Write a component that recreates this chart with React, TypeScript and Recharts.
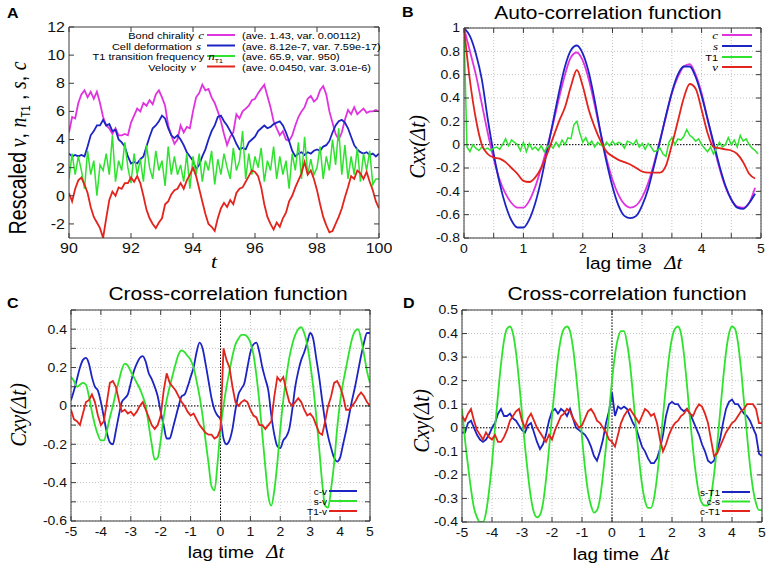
import React from "react";
import { LineChart, Line, XAxis, YAxis, CartesianGrid, ReferenceLine } from "recharts";

// ---- panel A: time series, t = 90 .. 100 every 0.1
const tA = Array.from({ length: 101 }, (_, i) => +(90 + i * 0.1).toFixed(2));
const chirality = [
  4.5, 5.6, 5.5, 6.6, 7.2, 7.5, 7.0, 7.4, 6.9, 7.4,
  6.6, 5.6, 5.0, 4.8, 4.4, 4.8, 4.3, 4.3, 4.4, 4.3,
  5.2, 5.7, 6.2, 6.0, 6.6, 6.4, 6.8, 6.5, 7.2, 7.5,
  7.0, 6.4, 5.0, 4.3, 3.7, 4.0, 5.0, 4.5, 4.9, 4.8,
  6.0, 7.0, 7.3, 7.9, 7.5, 7.6, 7.0, 6.6, 6.0, 5.3,
  4.4, 3.6, 4.2, 4.5, 5.8, 5.5, 6.0, 6.2, 6.4, 6.8,
  6.9, 7.3, 7.6, 7.9, 7.1, 6.3, 5.3, 4.8, 4.3, 4.6,
  4.0, 3.9, 4.3, 5.0, 5.6, 6.0, 6.3, 6.9, 7.1, 6.7,
  6.9, 7.5, 7.8, 7.2, 6.0, 5.2, 4.4, 4.0, 4.5, 5.4,
  6.1, 5.8, 6.3, 5.8, 6.0, 6.2, 5.9, 6.0, 6.0, 6.1,
  6.0,
];
const deformation = [
  3.0, 2.8, 2.9, 2.8, 2.9, 2.8, 3.5, 4.3, 4.6, 5.0,
  5.0, 5.4, 5.0, 5.1, 4.6, 4.7, 4.0, 3.8, 3.5, 2.8,
  2.3, 2.4, 2.3, 2.6, 2.8, 3.5, 4.2, 4.8, 5.0, 5.3,
  5.7, 5.5, 4.8, 4.3, 4.1, 4.3, 4.0, 3.6, 3.1, 2.8,
  2.5, 1.9, 2.2, 2.8, 3.3, 4.0, 4.6, 5.0, 5.6, 5.7,
  5.3, 5.0, 4.6, 4.2, 3.7, 3.3, 3.4, 3.3, 3.8, 4.0,
  4.2, 4.6, 4.8, 5.0, 4.8, 4.9, 5.1, 5.2, 5.3, 5.0,
  4.5, 3.9, 3.2, 2.8, 3.0, 3.1, 2.9, 3.1, 3.0, 3.2,
  3.3, 3.2, 3.5, 3.6, 3.9, 4.5, 5.0, 5.3, 5.4, 5.2,
  4.8, 4.2, 3.6, 3.3, 3.1, 3.0, 3.1, 2.9, 3.0, 2.8,
  3.0,
];
const t1Freq = [
  1.2, 3.0, 1.5, 2.8, 1.8, 0.5, 3.2, 1.5, 2.5, 0.0,
  2.2, 1.8, 3.0, 1.5, 4.3, 1.0, 2.5, 1.8, 3.8, 2.0,
  0.9, 3.0, 1.5, 2.6, 1.0, 3.6, 2.0, 1.2, 3.2, 1.8,
  2.5, 0.7, 3.5, 1.5, 2.8, 1.5, 2.2, 1.0, 3.0, 0.5,
  2.8, 1.5, 3.0, 1.0, 2.5, 1.8, 3.2, 0.8, 2.6, 1.5,
  3.0, 2.0, 1.2, 3.4, 1.8, 2.5, 4.6, 1.2, 3.0, 1.5,
  2.8, 2.0, 3.4, 1.0, 2.5, 1.8, 3.5, 1.2, 2.8, 1.5,
  2.5, 0.5, 3.0, 1.8, 3.8, 1.2, 4.2, 1.5, 2.6, 1.5,
  2.0, 3.5, 1.2, 2.8, 1.8, 4.0, 2.2, 4.8, 1.5, 3.6,
  1.2, 2.8, 1.5, 3.4, 1.0, 3.0, 1.8, 3.2, 0.8, 1.2,
  1.2,
];
const velocity = [
  0.2, -0.4, 0.5, 1.1, 1.3, 0.8, 0.2, -0.8, -1.5, -1.9,
  -2.3, -3.0, -1.6, -0.3, 0.3, 0.0, 0.6, 0.5, 0.9, 0.9,
  1.3, 1.0, 1.4, 0.9, 0.0, -1.0, -1.6, -2.0, -2.3, -1.9,
  -1.6, -0.6, -0.4, 0.1, 0.4, 0.5, 0.9, 0.5, 1.1, 1.5,
  2.0, 1.4, 0.5, -0.4, -1.3, -2.0, -2.2, -2.5, -1.6, -0.9,
  -0.5, -0.8, -0.3, -0.6, 0.2, 0.5, 0.6, 1.0, 1.4, 1.8,
  1.7, 1.4, 0.6, -0.6, -1.5, -2.0, -2.4, -1.9, -2.2, -1.6,
  -1.2, -0.4, 0.0, 0.6, 1.1, 1.6, 2.4, 1.5, 1.8, 1.2,
  0.4, -0.6, -1.5, -2.1, -2.6, -2.5, -2.0, -1.5, -0.9, -0.1,
  0.6, 1.4, 1.2, 1.8, 1.6, 1.2, 1.7, 1.0, 0.4, -0.4,
  -0.9,
];

// ---- panel B: auto-correlation, lag 0 .. 4.9 every 0.1 (T1 every 0.05)
const lagB = Array.from({ length: 50 }, (_, i) => +(i * 0.1).toFixed(2));
const lagBFine = Array.from({ length: 100 }, (_, i) => +(i * 0.05).toFixed(2));
const acfC = [
  1.0, 0.8, 0.6, 0.35, 0.1, -0.12, -0.3, -0.42, -0.5, -0.54,
  -0.54, -0.48, -0.36, -0.2, -0.02, 0.18, 0.4, 0.6, 0.75, 0.79,
  0.72, 0.56, 0.34, 0.1, -0.12, -0.3, -0.43, -0.51, -0.54, -0.52,
  -0.45, -0.33, -0.16, 0.04, 0.24, 0.44, 0.58, 0.67, 0.69, 0.6,
  0.44, 0.22, 0.0, -0.2, -0.36, -0.47, -0.53, -0.54, -0.5, -0.37,
];
const acfS = [
  1.0, 0.93, 0.78, 0.56, 0.22, -0.08, -0.33, -0.52, -0.65, -0.71,
  -0.71, -0.64, -0.5, -0.3, -0.05, 0.2, 0.45, 0.67, 0.81, 0.85,
  0.78, 0.62, 0.38, 0.1, -0.15, -0.36, -0.52, -0.61, -0.63, -0.61,
  -0.52, -0.38, -0.18, 0.03, 0.25, 0.45, 0.6, 0.67, 0.67, 0.58,
  0.42, 0.22, 0.02, -0.18, -0.35, -0.47, -0.54, -0.55, -0.5, -0.42,
];
const acfV = [
  1.0, 0.55, 0.22, 0.0, -0.08, -0.11, -0.12, -0.15, -0.2, -0.25,
  -0.31, -0.32, -0.28, -0.2, -0.08, 0.06, 0.2, 0.32, 0.5, 0.64,
  0.5, 0.3, 0.15, 0.03, -0.06, -0.1, -0.13, -0.15, -0.17, -0.2,
  -0.23, -0.24, -0.24, -0.24, -0.18, 0.0, 0.2, 0.4, 0.52, 0.48,
  0.3, 0.1, -0.02, -0.03, -0.04, -0.05, -0.08, -0.15, -0.25, -0.29,
];
const acfT1 = [
  1.0, -0.02, -0.06, 0.0, -0.03, -0.05, -0.02, -0.04, -0.03, -0.05,
  -0.03, -0.02, -0.04, 0.0, 0.05, -0.01, 0.04, 0.02, 0.0, -0.05,
  0.02, -0.06, 0.01, -0.04, -0.02, -0.05, -0.01, -0.06, -0.02, 0.0,
  -0.03, 0.02, -0.02, 0.04, 0.0, 0.06, 0.05, 0.17, 0.2, 0.1,
  0.02, 0.06, 0.0, 0.03, -0.02, 0.02, 0.0, -0.02, 0.02, -0.01,
  0.03, 0.0, 0.02, 0.01, -0.03, 0.03, 0.02, 0.0, 0.04, -0.02,
  0.01, -0.04, 0.01, -0.02, -0.06, -0.05, -0.03, -0.08, -0.1, 0.02,
  0.06, 0.0, 0.05, 0.04, 0.07, 0.13, 0.08, 0.06, 0.03, 0.05,
  0.0, -0.03, -0.06, -0.02, -0.08, -0.03, 0.02, -0.02, 0.0, 0.06,
  0.0, 0.04, -0.02, 0.08, 0.03, 0.05, 0.0, -0.03, -0.05, -0.08,
];

// ---- panels C, D: cross-correlation, lag -5 .. 5 every 0.1
const lagCD = Array.from({ length: 101 }, (_, i) => +(-5 + i * 0.1).toFixed(2));
const ccfCV = [
  0.03, 0.08, 0.14, 0.2, 0.24, 0.25, 0.22, 0.15, 0.1, 0.08,
  0.02, -0.06, -0.14, -0.19, -0.2, -0.13, -0.05, 0.02, 0.04, 0.06,
  0.12, 0.18, 0.22, 0.25, 0.26, 0.23, 0.17, 0.14, 0.1, 0.05,
  -0.03, -0.1, -0.17, -0.17, -0.12, -0.06, 0.0, 0.05, 0.06, 0.1,
  0.15, 0.2, 0.28, 0.33, 0.3, 0.22, 0.13, 0.04, -0.02, -0.05,
  -0.07, -0.17, -0.2, -0.18, -0.12, -0.02, 0.06, 0.09, 0.12, 0.2,
  0.28, 0.32, 0.33, 0.28, 0.2, 0.14, 0.08, -0.05, -0.15, -0.21,
  -0.22, -0.18, -0.16, -0.12, -0.02, 0.1, 0.18, 0.24, 0.28, 0.33,
  0.38, 0.35, 0.25, 0.15, 0.03, -0.08, -0.16, -0.22, -0.27, -0.29,
  -0.27, -0.2, -0.13, -0.05, 0.03, 0.1, 0.18, 0.26, 0.33, 0.38,
  0.38,
];
const ccfSV = [
  0.15, 0.13, 0.1, 0.11, 0.12, 0.11, 0.05, -0.03, -0.1, -0.15,
  -0.18, -0.18, -0.13, -0.06, 0.0, 0.07, 0.13, 0.19, 0.22, 0.21,
  0.18, 0.15, 0.12, 0.09, 0.05, 0.0, -0.1, -0.2, -0.28, -0.27,
  -0.18, -0.06, 0.03, 0.1, 0.16, 0.22, 0.27, 0.29, 0.28, 0.26,
  0.24, 0.2, 0.13, 0.05, -0.05, -0.18, -0.3, -0.42, -0.44, -0.3,
  -0.12, 0.0, 0.1, 0.18, 0.26, 0.32, 0.35, 0.37, 0.37, 0.36,
  0.33, 0.27, 0.16, 0.02, -0.15, -0.32, -0.47, -0.52, -0.44, -0.3,
  -0.12, 0.03, 0.15, 0.25, 0.32, 0.37, 0.4, 0.41, 0.38, 0.32,
  0.22, 0.1, -0.05, -0.22, -0.4, -0.52, -0.53, -0.43, -0.3, -0.12,
  0.02, 0.12, 0.2, 0.28, 0.35, 0.39, 0.4, 0.35, 0.27, 0.18,
  0.12,
];
const ccfT1V = [
  -0.02, -0.07, -0.08, -0.1, -0.04, 0.02, 0.03, 0.06, 0.02, -0.05,
  -0.1, -0.08, 0.02, 0.12, 0.13, 0.1, 0.03, -0.03, -0.02, -0.04,
  -0.03, -0.05, -0.03, 0.0, 0.02, -0.02, -0.06, -0.1, -0.12, -0.1,
  -0.05, 0.08, 0.17, 0.12, 0.1, 0.08, 0.05, 0.02, 0.0, -0.03,
  -0.05, -0.04, -0.07, -0.1, -0.12, -0.14, -0.15, -0.15, -0.17, -0.16,
  -0.12, 0.3, 0.24, 0.2, 0.1, 0.02, 0.0, 0.02, 0.03, 0.02,
  -0.02, -0.05, -0.06, -0.1, -0.1, -0.12, -0.1, -0.08, 0.05, 0.15,
  0.13, 0.15, 0.08, 0.02, 0.0, 0.02, 0.04, 0.02, -0.02, -0.05,
  -0.04, -0.06, -0.1, -0.14, -0.15, -0.08, 0.0, 0.05, 0.12, 0.13,
  0.1, 0.05, -0.02, -0.02, 0.0, 0.02, 0.05, 0.07, 0.05, 0.02,
  0.0,
];
const ccfST1 = [
  -0.02, -0.02, 0.02, 0.03, 0.0, -0.03, -0.05, -0.06, -0.05, -0.03,
  0.0, 0.02, 0.06, 0.08, 0.05, 0.05, 0.06, 0.04, 0.03, 0.01,
  -0.01, -0.02, 0.01, 0.02, -0.02, -0.06, -0.09, -0.07, -0.03, 0.03,
  0.07, 0.08, 0.06, 0.08, 0.07, 0.05, 0.08, 0.04, 0.0, -0.01,
  -0.02, -0.03, -0.05, -0.08, -0.12, -0.14, -0.1, -0.05, 0.02, 0.07,
  0.15, 0.05, 0.09, 0.08, 0.09, 0.08, 0.05, 0.02, 0.0, -0.04,
  -0.08, -0.1, -0.13, -0.15, -0.15, -0.13, -0.09, -0.03, 0.05, 0.1,
  0.11, 0.1, 0.1, 0.08, 0.07, 0.08, 0.06, 0.03, 0.0, -0.03,
  -0.07, -0.1, -0.14, -0.15, -0.14, -0.1, -0.05, 0.02, 0.08, 0.11,
  0.12, 0.1, 0.1, 0.08, 0.06, 0.05, 0.03, 0.0, -0.03, -0.11,
  -0.12,
];
const ccfCS = [
  0.08, -0.05, -0.16, -0.26, -0.34, -0.38, -0.4, -0.4, -0.36, -0.27,
  -0.15, 0.0, 0.14, 0.27, 0.37, 0.42, 0.43, 0.4, 0.32, 0.2,
  0.06, -0.08, -0.2, -0.3, -0.36, -0.38, -0.37, -0.32, -0.22, -0.09,
  0.05, 0.18, 0.3, 0.38, 0.42, 0.43, 0.41, 0.34, 0.23, 0.1,
  -0.04, -0.17, -0.27, -0.33, -0.36, -0.35, -0.3, -0.2, -0.08, 0.06,
  0.2, 0.31, 0.38, 0.41, 0.41, 0.36, 0.27, 0.14, 0.0, -0.13,
  -0.24, -0.31, -0.34, -0.34, -0.3, -0.21, -0.09, 0.05, 0.18, 0.3,
  0.38, 0.42, 0.43, 0.4, 0.31, 0.18, 0.04, -0.09, -0.2, -0.28,
  -0.32, -0.33, -0.33, -0.29, -0.2, -0.08, 0.06, 0.2, 0.32, 0.4,
  0.43, 0.42, 0.36, 0.25, 0.11, -0.03, -0.16, -0.26, -0.32, -0.35,
  -0.35,
];
const ccfCT1 = [
  0.05, 0.03, 0.06, 0.08, 0.03, -0.01, -0.03, -0.05, -0.02, -0.04,
  -0.05, -0.03, -0.06, -0.06, -0.04, -0.01, 0.03, 0.05, 0.07, 0.08,
  0.03, 0.0, 0.04, 0.06, 0.03, 0.0, -0.02, -0.04, -0.06, -0.03,
  -0.05, -0.01, 0.02, 0.05, 0.06, 0.08, 0.07, 0.04, 0.02, 0.0,
  0.01, 0.04, 0.07, 0.08, 0.06, 0.03, 0.02, 0.0, -0.02, -0.05,
  -0.06, -0.08, -0.03, 0.02, 0.05, 0.07, 0.08, 0.06, 0.04, 0.02,
  0.05, 0.08, 0.07, 0.05, 0.06, 0.02, -0.05, -0.1, -0.07, -0.03,
  0.0, 0.02, 0.03, 0.05, 0.06, 0.08, 0.06, 0.05, 0.08, 0.1,
  0.09, 0.06, 0.02, -0.05, -0.12, -0.11, -0.08, -0.05, -0.02, 0.0,
  0.02, 0.03, 0.05, 0.07, 0.08, 0.1, 0.1, 0.1, 0.08, 0.02,
  0.02,
];

// tick values
const ticksA_x = [90, 92, 94, 96, 98, 100];
const ticksA_y = [-2, 0, 2, 4, 6, 8, 10, 12];
const ticksB_x = [0, 0.5, 1, 1.5, 2, 2.5, 3, 3.5, 4, 4.5, 5];
const ticksB_y = [-0.8, -0.6, -0.4, -0.2, 0, 0.2, 0.4, 0.6, 0.8, 1];
const ticksCD_x = [-5, -4, -3, -2, -1, 0, 1, 2, 3, 4, 5];
const ticksC_y = [-0.6, -0.5, -0.4, -0.3, -0.2, -0.1, 0, 0.1, 0.2, 0.3, 0.4, 0.5];
const ticksD_y = [-0.4, -0.3, -0.2, -0.1, 0, 0.1, 0.2, 0.3, 0.4, 0.5];

const MAGENTA = "#e033e0";
const BLUE = "#1c24c4";
const GREEN = "#2ee22e";
const RED = "#e2241c";
const AX = "#3a3a3a";
const SANS = "'Liberation Sans', Arial, sans-serif";
const SERIF = "'Liberation Serif', 'Times New Roman', serif";
const SQ = 0.86; // the source figure's lettering is a little squat

const pairs = (xs: number[], ys: number[]) => ys.map((y, i) => ({ x: xs[i], y }));
const fmt = (v: number) => String(Number(v.toFixed(2)));
const always = () => true;
const at = (x: number, y: number) => `translate(${x} ${y}) scale(1 ${SQ})`;
const atUp = (x: number, y: number) => `translate(${x} ${y}) scale(1 ${SQ}) rotate(-90)`;

type Series = { name: string; xs: number[]; ys: number[]; color: string; curve: "linear" | "monotone"; w?: number };

type PanelProps = {
  left: number;
  top: number;
  width: number;
  height: number;
  mTop: number;
  mRight: number;
  yWidth: number;
  xHeight: number;
  xDomain: [number, number];
  yDomain: [number, number];
  xTicks: number[];
  yTicks: number[];
  xShow: (v: number) => boolean;
  yShow: (v: number) => boolean;
  fontSize: number;
  grid: boolean;
  zeroX: boolean;
  zeroY: boolean;
  series: Series[];
};

function Panel(p: PanelProps) {
  const plotTop = p.mTop;
  const plotBottom = p.height - p.xHeight;
  const plotLeft = p.yWidth;
  const plotRight = p.width - p.mRight;

  const XTick = (props: any) => {
    const { x, payload } = props;
    const v = payload.value;
    return (
      <g>
        <line x1={x} x2={x} y1={plotBottom} y2={plotBottom - 5} stroke={AX} />
        <line x1={x} x2={x} y1={plotTop} y2={plotTop + 5} stroke={AX} />
        {p.xShow(v) ? (
          <text transform={at(x, plotBottom + 15)} textAnchor="middle" fontFamily={SANS} fontSize={p.fontSize} fill="#111">
            {fmt(v)}
          </text>
        ) : null}
      </g>
    );
  };

  const YTick = (props: any) => {
    const { y, payload } = props;
    const v = payload.value;
    return (
      <g>
        <line x1={plotLeft} x2={plotLeft + 5} y1={y} y2={y} stroke={AX} />
        <line x1={plotRight} x2={plotRight - 5} y1={y} y2={y} stroke={AX} />
        {p.yShow(v) ? (
          <text transform={at(plotLeft - 4, y + p.fontSize * 0.31)} textAnchor="end" fontFamily={SANS} fontSize={p.fontSize} fill="#111">
            {fmt(v)}
          </text>
        ) : null}
      </g>
    );
  };

  return (
    <div style={{ position: "absolute", left: p.left, top: p.top }}>
      <LineChart width={p.width} height={p.height} margin={{ top: p.mTop, right: p.mRight, left: 0, bottom: 0 }}>
        {p.grid ? <CartesianGrid stroke="#c4c4c4" strokeDasharray="1 2" /> : null}
        <XAxis
          type="number"
          dataKey="x"
          domain={p.xDomain}
          ticks={p.xTicks}
          interval={0}
          allowDataOverflow
          height={p.xHeight}
          tickSize={0}
          tickLine={false}
          tick={XTick}
          axisLine={{ stroke: AX }}
        />
        <YAxis
          type="number"
          domain={p.yDomain}
          ticks={p.yTicks}
          interval={0}
          allowDataOverflow
          width={p.yWidth}
          tickSize={0}
          tickLine={false}
          tick={YTick}
          axisLine={{ stroke: AX }}
        />
        {p.zeroY ? <ReferenceLine y={0} stroke="#000" strokeDasharray="1.5 1.5" /> : null}
        {p.zeroX ? <ReferenceLine x={0} stroke="#000" strokeDasharray="1.5 1.5" /> : null}
        {p.series.map((s) => (
          <Line
            key={s.name}
            data={pairs(s.xs, s.ys)}
            dataKey="y"
            type={s.curve}
            stroke={s.color}
            strokeWidth={s.w ?? 1.8}
            dot={false}
            isAnimationActive={false}
          />
        ))}
        <ReferenceLine y={p.yDomain[1]} stroke={AX} />
        <ReferenceLine x={p.xDomain[1]} stroke={AX} />
      </LineChart>
    </div>
  );
}

const LegendLine = ({ x1, x2, y, color }: { x1: number; x2: number; y: number; color: string }) => (
  <line x1={x1} x2={x2} y1={y} y2={y} stroke={color} strokeWidth={2} />
);

export default function App() {
  // "end" is where each key entry's right edge falls in the source figure
  const legendA = [
    { label: "Bond chirality", sym: "c", stat: "(ave. 1.43, var. 0.00112)", color: MAGENTA, y: 35, end: 204 },
    { label: "Cell deformation", sym: "s", stat: "(ave. 8.12e-7, var. 7.59e-17)", color: BLUE, y: 45.5, end: 201 },
    { label: "T1 transition frequency", sym: "n", stat: "(ave. 65.9, var. 950)", color: GREEN, y: 56, end: 223 },
    { label: "Velocity", sym: "v", stat: "(ave. 0.0450, var. 3.01e-6)", color: RED, y: 66.5, end: 196 },
  ];
  const legendB = [
    { sym: "c", color: MAGENTA, y: 35, italic: true },
    { sym: "s", color: BLUE, y: 46, italic: true },
    { sym: "T1", color: GREEN, y: 57, italic: false },
    { sym: "v", color: RED, y: 67, italic: true },
  ];
  const legendC = [
    { sym: "c-v", color: BLUE, y: 491 },
    { sym: "s-v", color: GREEN, y: 501 },
    { sym: "T1-v", color: RED, y: 511 },
  ];
  const legendD = [
    { sym: "s-T1", color: BLUE, y: 492 },
    { sym: "c-s", color: GREEN, y: 501.5 },
    { sym: "c-T1", color: RED, y: 511 },
  ];

  return (
    <div style={{ position: "absolute", left: 0, top: 0, width: 773, height: 569, background: "#fff", overflow: "hidden" }}>
      <Panel
        left={0}
        top={0}
        width={392}
        height={268}
        mTop={27}
        mRight={13}
        yWidth={69}
        xHeight={30}
        xDomain={[90, 100]}
        yDomain={[-3, 12]}
        xTicks={ticksA_x}
        yTicks={ticksA_y}
        xShow={always}
        yShow={always}
        fontSize={16}
        grid={false}
        zeroX={false}
        zeroY={false}
        series={[
          { name: "c", xs: tA, ys: chirality, color: MAGENTA, curve: "linear" },
          { name: "s", xs: tA, ys: deformation, color: BLUE, curve: "linear" },
          { name: "n", xs: tA, ys: t1Freq, color: GREEN, curve: "linear", w: 1.5 },
          { name: "v", xs: tA, ys: velocity, color: RED, curve: "linear" },
        ]}
      />
      <Panel
        left={390}
        top={0}
        width={383}
        height={268}
        mTop={28}
        mRight={12}
        yWidth={74}
        xHeight={30}
        xDomain={[0, 5]}
        yDomain={[-0.8, 1]}
        xTicks={ticksB_x}
        yTicks={ticksB_y}
        xShow={(v) => Number.isInteger(v)}
        yShow={always}
        fontSize={14}
        grid={true}
        zeroX={false}
        zeroY={true}
        series={[
          { name: "c", xs: lagB, ys: acfC, color: MAGENTA, curve: "monotone" },
          { name: "s", xs: lagB, ys: acfS, color: BLUE, curve: "monotone" },
          { name: "T1", xs: lagBFine, ys: acfT1, color: GREEN, curve: "linear", w: 1.5 },
          { name: "v", xs: lagB, ys: acfV, color: RED, curve: "monotone" },
        ]}
      />
      <Panel
        left={0}
        top={280}
        width={380}
        height={271}
        mTop={30}
        mRight={10}
        yWidth={71}
        xHeight={30}
        xDomain={[-5, 5]}
        yDomain={[-0.6, 0.5]}
        xTicks={ticksCD_x}
        yTicks={ticksC_y}
        xShow={always}
        yShow={(v) => Math.round(v * 10) % 2 === 0}
        fontSize={14}
        grid={true}
        zeroX={true}
        zeroY={true}
        series={[
          { name: "cv", xs: lagCD, ys: ccfCV, color: BLUE, curve: "monotone" },
          { name: "sv", xs: lagCD, ys: ccfSV, color: GREEN, curve: "monotone" },
          { name: "t1v", xs: lagCD, ys: ccfT1V, color: RED, curve: "linear" },
        ]}
      />
      <Panel
        left={390}
        top={280}
        width={383}
        height={272}
        mTop={30}
        mRight={11}
        yWidth={72}
        xHeight={30}
        xDomain={[-5, 5]}
        yDomain={[-0.4, 0.5]}
        xTicks={ticksCD_x}
        yTicks={ticksD_y}
        xShow={always}
        yShow={always}
        fontSize={14}
        grid={true}
        zeroX={true}
        zeroY={true}
        series={[
          { name: "st1", xs: lagCD, ys: ccfST1, color: BLUE, curve: "linear" },
          { name: "cs", xs: lagCD, ys: ccfCS, color: GREEN, curve: "monotone" },
          { name: "ct1", xs: lagCD, ys: ccfCT1, color: RED, curve: "linear" },
        ]}
      />

      <svg width={773} height={569} style={{ position: "absolute", left: 0, top: 0, pointerEvents: "none" }}>
        {/* panel letters */}
        <g fontFamily={SANS} fontWeight="bold" fontSize={16} fill="#000">
          <text transform={at(7, 18)}>A</text>
          <text transform={at(402, 17)}>B</text>
          <text transform={at(7, 308)}>C</text>
          <text transform={at(403, 308)}>D</text>
        </g>
        {/* titles */}
        <g fontFamily={SANS} fontSize={21} fill="#000" textAnchor="middle">
          <text transform={at(608, 19)}>Auto-correlation function</text>
          <text transform={at(228, 300)}>Cross-correlation function</text>
          <text transform={at(627, 300)}>Cross-correlation function</text>
        </g>
        {/* x labels */}
        <text transform={at(214, 268)} fontFamily={SERIF} fontStyle="italic" fontSize={22} textAnchor="middle">t</text>
        {[
          { x: 634, y: 269 },
          { x: 236, y: 558 },
          { x: 621, y: 560 },
        ].map((p, i) => (
          <text key={i} transform={at(p.x, p.y)} fontFamily={SANS} fontSize={19} textAnchor="middle">
            lag time
            <tspan dx={12} fontFamily={SERIF} fontStyle="italic" fontSize={21}>Δt</tspan>
          </text>
        ))}
        {/* y labels */}
        <text transform={atUp(26, 148)} textAnchor="middle" fontFamily={SANS} fontSize={23}>
          Rescaled
          <tspan fontFamily={SERIF} fontStyle="italic"> v</tspan>
          <tspan>, </tspan>
          <tspan fontFamily={SERIF} fontStyle="italic">n</tspan>
          <tspan fontFamily={SANS} fontSize={12} dy={4}>T1</tspan>
          <tspan dy={-4}> , </tspan>
          <tspan fontFamily={SERIF} fontStyle="italic">s</tspan>
          <tspan>, </tspan>
          <tspan fontFamily={SERIF} fontStyle="italic">c</tspan>
        </text>
        <text transform={atUp(425, 147)} textAnchor="middle" fontFamily={SERIF} fontStyle="italic" fontSize={24}>
          Cxx(Δt)
        </text>
        <text transform={atUp(26, 415)} textAnchor="middle" fontFamily={SERIF} fontStyle="italic" fontSize={24}>
          Cxy(Δt)
        </text>
        <text transform={atUp(429, 421)} textAnchor="middle" fontFamily={SERIF} fontStyle="italic" fontSize={24}>
          Cxy(Δt)
        </text>

        {/* legend A */}
        {legendA.map((r) => (
          <g key={r.label}>
            <LegendLine x1={207} x2={235} y={r.y} color={r.color} />
            <text transform={at(r.end, r.y + 4)} textAnchor="end" fontFamily={SANS} fontSize={11}>
              {r.label}
              <tspan dx={4} fontFamily={SERIF} fontStyle="italic" fontSize={13}>{r.sym}</tspan>
              {r.sym === "n" ? <tspan fontSize={7} dy={3}>T1</tspan> : null}
            </text>
            <text transform={at(242, r.y + 4)} fontFamily={SANS} fontSize={11}>{r.stat}</text>
          </g>
        ))}
        {/* legend B */}
        {legendB.map((r) => (
          <g key={r.sym}>
            <text
              transform={at(718, r.y + 4)}
              textAnchor="end"
              fontFamily={r.italic ? SERIF : SANS}
              fontStyle={r.italic ? "italic" : "normal"}
              fontSize={r.italic ? 13 : 11}
            >
              {r.sym}
            </text>
            <LegendLine x1={722} x2={752} y={r.y} color={r.color} />
          </g>
        ))}
        {legendC.map((r) => (
          <g key={r.sym}>
            <text transform={at(327, r.y + 3.5)} textAnchor="end" fontFamily={SANS} fontSize={10}>{r.sym}</text>
            <LegendLine x1={329} x2={357} y={r.y} color={r.color} />
          </g>
        ))}
        {legendD.map((r) => (
          <g key={r.sym}>
            <text transform={at(720, r.y + 3.5)} textAnchor="end" fontFamily={SANS} fontSize={10}>{r.sym}</text>
            <LegendLine x1={722} x2={750} y={r.y} color={r.color} />
          </g>
        ))}
      </svg>
    </div>
  );
}
